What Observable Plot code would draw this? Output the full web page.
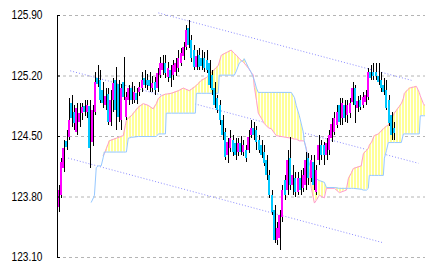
<!DOCTYPE html>
<html><head><meta charset="utf-8">
<script src="https://cdn.jsdelivr.net/npm/d3@7"></script>
<script src="https://cdn.jsdelivr.net/npm/@observablehq/plot@0.6"></script>
<style>body{margin:0;background:#fff}</style>
</head><body><div id="chart"></div>
<script>
const yTicks = [123.10, 123.80, 124.50, 125.20, 125.90];

const open = [123.68,123.82,124.13,124.44,124.49,124.88,124.78,124.55,124.66,124.77,
124.85,124.78,124.85,124.43,124.78,125.17,125.15,125.03,124.86,124.99,
124.66,124.92,125.15,125.10,124.69,125.13,124.72,124.92,125.06,124.92,
125.00,125.01,125.06,125.17,125.15,125.15,125.06,125.13,125.06,125.21,
125.26,125.35,125.18,125.26,125.21,125.24,125.29,125.35,125.43,125.53,
125.75,125.61,125.50,125.30,125.44,125.40,125.40,125.38,125.35,125.21,
125.06,124.94,124.86,124.69,124.55,124.28,124.36,124.45,124.42,124.32,
124.42,124.32,124.34,124.34,124.51,124.59,124.57,124.45,124.40,124.32,
124.22,124.05,123.82,123.64,123.30,123.32,123.56,123.99,123.88,124.25,
123.93,124.01,123.85,124.01,123.90,123.93,124.25,124.01,124.20,123.85,
124.22,124.40,124.40,124.28,124.34,124.48,124.55,124.63,124.86,124.71,
124.86,124.74,124.77,124.89,125.06,124.82,124.92,124.86,124.89,124.95,
125.24,125.24,125.24,125.19,125.15,125.09,125.03,124.92,124.74,124.59];

const close = [123.88,124.20,124.36,124.37,124.69,124.71,124.65,124.82,124.77,124.84,
124.78,124.86,124.36,124.80,125.13,125.10,124.92,124.88,124.96,124.66,
124.92,125.11,124.80,124.72,125.06,124.95,124.95,125.06,124.92,125.01,
124.92,125.07,125.15,125.09,125.09,125.08,125.11,125.03,125.23,125.35,
125.35,125.23,125.29,125.17,125.32,125.35,125.40,125.46,125.53,125.73,
125.55,125.40,125.30,125.43,125.30,125.31,125.29,125.26,125.09,125.03,
124.86,124.80,124.69,124.51,124.26,124.43,124.48,124.32,124.28,124.42,
124.32,124.40,124.25,124.49,124.59,124.51,124.43,124.34,124.28,124.19,
124.05,123.82,123.62,123.30,123.44,123.59,123.88,123.82,124.22,123.93,
124.05,123.85,124.01,123.88,124.05,124.22,124.01,124.22,123.93,124.11,
124.40,124.28,124.28,124.42,124.51,124.64,124.71,124.78,124.66,124.88,
124.71,124.86,124.88,125.06,124.86,124.90,124.84,124.95,124.97,125.24,
125.17,125.19,125.19,125.13,125.06,125.01,124.82,124.65,124.51,124.53];

const high = [123.93,124.25,124.45,124.57,124.94,124.97,124.86,124.88,124.88,124.88,
124.92,124.92,124.92,124.86,125.24,125.32,125.26,125.13,125.06,125.06,
125.03,125.17,125.30,125.15,125.10,125.41,125.01,125.09,125.13,125.08,
125.06,125.13,125.24,125.26,125.22,125.24,125.19,125.18,125.29,125.41,
125.44,125.44,125.36,125.32,125.38,125.40,125.50,125.52,125.59,125.78,
125.84,125.67,125.55,125.50,125.52,125.50,125.47,125.50,125.38,125.26,
125.13,124.97,124.92,124.74,124.59,124.48,124.57,124.51,124.48,124.48,
124.50,124.45,124.40,124.57,124.69,124.66,124.62,124.51,124.45,124.40,
124.28,124.11,123.88,123.70,123.51,123.64,123.93,124.05,124.34,124.49,
124.16,124.08,124.08,124.11,124.13,124.32,124.30,124.28,124.28,124.16,
124.51,124.45,124.43,124.48,124.57,124.71,124.78,124.86,124.94,124.94,
124.92,124.92,124.94,125.13,125.09,124.96,124.97,125.01,125.03,125.29,
125.32,125.35,125.35,125.35,125.24,125.17,125.15,124.97,124.78,124.66];

const low = [123.62,123.78,124.08,124.34,124.45,124.60,124.57,124.51,124.60,124.69,
124.73,124.71,124.13,124.38,124.74,125.07,124.88,124.82,124.80,124.63,
124.62,124.78,124.57,124.66,124.57,124.92,124.69,124.86,124.87,124.88,
124.87,124.96,125.01,125.06,125.03,125.01,125.01,124.97,125.01,125.17,
125.21,125.17,125.13,125.07,125.15,125.19,125.24,125.31,125.38,125.50,
125.52,125.36,125.26,125.26,125.26,125.26,125.24,125.23,125.06,124.97,
124.82,124.77,124.63,124.45,124.22,124.19,124.32,124.27,124.22,124.27,
124.28,124.27,124.20,124.30,124.48,124.45,124.34,124.30,124.25,124.15,
123.99,123.78,123.59,123.26,123.24,123.18,123.51,123.76,123.82,123.88,
123.82,123.79,123.82,123.82,123.85,123.88,123.93,123.97,123.88,123.82,
124.16,124.22,124.16,124.22,124.28,124.43,124.51,124.59,124.63,124.63,
124.66,124.65,124.71,124.86,124.65,124.78,124.80,124.82,124.86,124.92,
125.15,125.15,125.15,125.09,125.01,124.97,124.80,124.62,124.45,124.45];

// Ichimoku cloud, positions in bar units
const cloudBar = [12.7,13.5,13.9,14.6,15.4,16.5,17.3,17.7,18.5,19.6,
22.3,25.0,25.8,26.2,26.9,28.1,30.8,32.7,34.6,36.5,
37.7,38.5,39.6,41.2,41.5,43.5,46.2,48.1,50.4,52.7,
53.1,55.0,56.9,58.9,61.5,61.9,62.7,64.6,66.5,67.7,
68.5,69.6,70.4,71.2,71.5,72.3,73.1,74.2,75.0,75.4,
76.2,76.9,78.1,79.2,80.8,81.9,83.8,89.6,90.8,91.5,
92.7,94.2,94.6,95.4,96.2,97.3,98.5,99.2,100.4,102.3,
103.1,106.2,108.1,110.8,111.5,112.7,113.5,116.5,117.3,118.5,
119.2,119.6,120.4,121.5,123.1,125.0,125.4,126.2,126.9,129.2,
131.9,132.7,133.1,135.0,137.7,138.8,139.2,140.4,141.5];
const spanA = [null,null,null,null,null,null,124.28,124.30,124.36,124.45,
124.48,124.51,124.63,124.69,124.71,124.74,124.84,124.88,124.86,124.82,
124.88,124.94,124.97,124.99,124.99,125.00,125.03,125.06,125.03,125.08,
125.09,125.15,125.18,125.24,125.32,125.36,125.44,125.47,125.50,125.46,
125.44,125.40,125.38,125.36,125.35,125.32,125.29,125.24,125.21,125.07,
124.92,124.77,124.71,124.65,124.60,124.59,124.51,124.48,124.47,124.47,
124.45,124.45,124.44,124.36,124.16,123.90,123.73,123.76,123.82,123.79,
123.90,123.90,123.85,123.88,124.01,124.08,124.13,124.16,124.30,124.34,
124.36,124.40,124.43,124.51,124.53,124.59,124.60,124.62,124.63,124.77,
124.88,124.94,125.00,125.06,125.08,125.01,124.97,124.88,124.84];
const spanB = [123.74,123.79,123.82,124.14,124.16,124.16,124.26,124.32,124.32,124.32,
124.32,124.32,124.32,124.32,124.48,124.49,124.50,124.50,124.50,124.50,
124.50,124.53,124.53,124.53,124.77,124.77,124.77,124.77,124.77,124.77,
125.00,125.00,125.00,125.00,125.00,125.21,125.21,125.21,125.21,125.21,
125.26,125.35,125.37,125.38,125.40,125.35,125.30,125.24,125.18,125.15,
125.06,125.01,125.01,125.01,125.01,125.01,125.01,125.01,124.95,124.86,
124.74,124.55,124.45,124.34,124.22,124.11,124.05,124.01,123.99,123.97,
123.91,123.91,123.90,123.90,123.90,123.90,123.90,123.89,123.88,123.88,
123.90,124.05,124.05,124.05,124.05,124.05,124.25,124.34,124.43,124.43,
124.43,124.53,124.53,124.53,124.53,124.53,124.74,124.74,124.74];

// trend channel lines
const trendBar1 = [38.5, 4.6, 3.8];
const trendVal1 = [125.93, 125.26, 124.25];
const trendBar2 = [135.8, 138.5, 125.0];
const trendVal2 = [125.15, 124.19, 123.27];

const candles = open.map((o, i) => ({i, o, c: close[i], h: high[i], l: low[i]}));
const cloud = cloudBar.map((b, k) => ({b, a: spanA[k], s: spanB[k]}));
const trend = trendBar1.map((b, k) => ({x1: b, y1: trendVal1[k], x2: trendBar2[k], y2: trendVal2[k]}));

const svg = Plot.plot({
  width: 434, height: 271,
  marginLeft: 57, marginRight: 9, marginTop: 15, marginBottom: 14,
  style: {background: "#fff", fontFamily: "'Liberation Sans', Arial, sans-serif"},
  x: {domain: [-0.3, 141.2], axis: null},
  y: {domain: [123.10, 125.90], axis: null},
  marks: [
    Plot.ruleY(yTicks, {stroke: "#b4b4b4", strokeDasharray: "3,3"}),
    Plot.link(trend, {x1: "x1", y1: "y1", x2: "x2", y2: "y2", stroke: "#8c8cff", strokeDasharray: "1,2"}),
    Plot.areaY(cloud, {x: "b", y1: "a", y2: "s", fill: "url(#kumoPat)", clip: true}),
    Plot.line(cloud, {x: "b", y: "a", stroke: "#ff9ccc", strokeWidth: 1, clip: true}),
    Plot.line(cloud, {x: "b", y: "s", stroke: "#96c8ff", strokeWidth: 1, clip: true}),
    Plot.ruleX(candles, {x: "i", y1: "l", y2: "h", stroke: "#000", strokeWidth: 1, dx: 1, shapeRendering: "crispEdges"}),
    Plot.ruleX(candles, {x: "i", y1: "o", y2: "c", stroke: d => d.c >= d.o ? "#ff00ff" : "#00c8ff", strokeWidth: 2, shapeRendering: "crispEdges"}),
    Plot.frame({anchor: "left", stroke: "#000"}),
    Plot.ruleY(yTicks, {x1: -0.3, x2: 0.85, stroke: "#000"}),
    Plot.axisY(yTicks, {tickSize: 0, tickPadding: 15, tickFormat: d => d.toFixed(2), fontSize: 12, fill: "#000"})
  ]
});

const ns = "http://www.w3.org/2000/svg";
const defs = document.createElementNS(ns, "defs");
const pat = document.createElementNS(ns, "pattern");
pat.setAttribute("id", "kumoPat");
pat.setAttribute("patternUnits", "userSpaceOnUse");
pat.setAttribute("width", "3");
pat.setAttribute("height", "8");
const bg = document.createElementNS(ns, "rect");
bg.setAttribute("width", "3"); bg.setAttribute("height", "8"); bg.setAttribute("fill", "#ffffff");
const r = document.createElementNS(ns, "rect");
r.setAttribute("width", "2"); r.setAttribute("height", "8"); r.setAttribute("fill", "#ffff99");
pat.appendChild(bg); pat.appendChild(r);
defs.appendChild(pat);
svg.insertBefore(defs, svg.firstChild);
svg.querySelectorAll("text").forEach(t => {
  t.setAttribute("textLength", "31");
  t.setAttribute("lengthAdjust", "spacingAndGlyphs");
});
document.getElementById("chart").appendChild(svg);
</script>
</body></html>
